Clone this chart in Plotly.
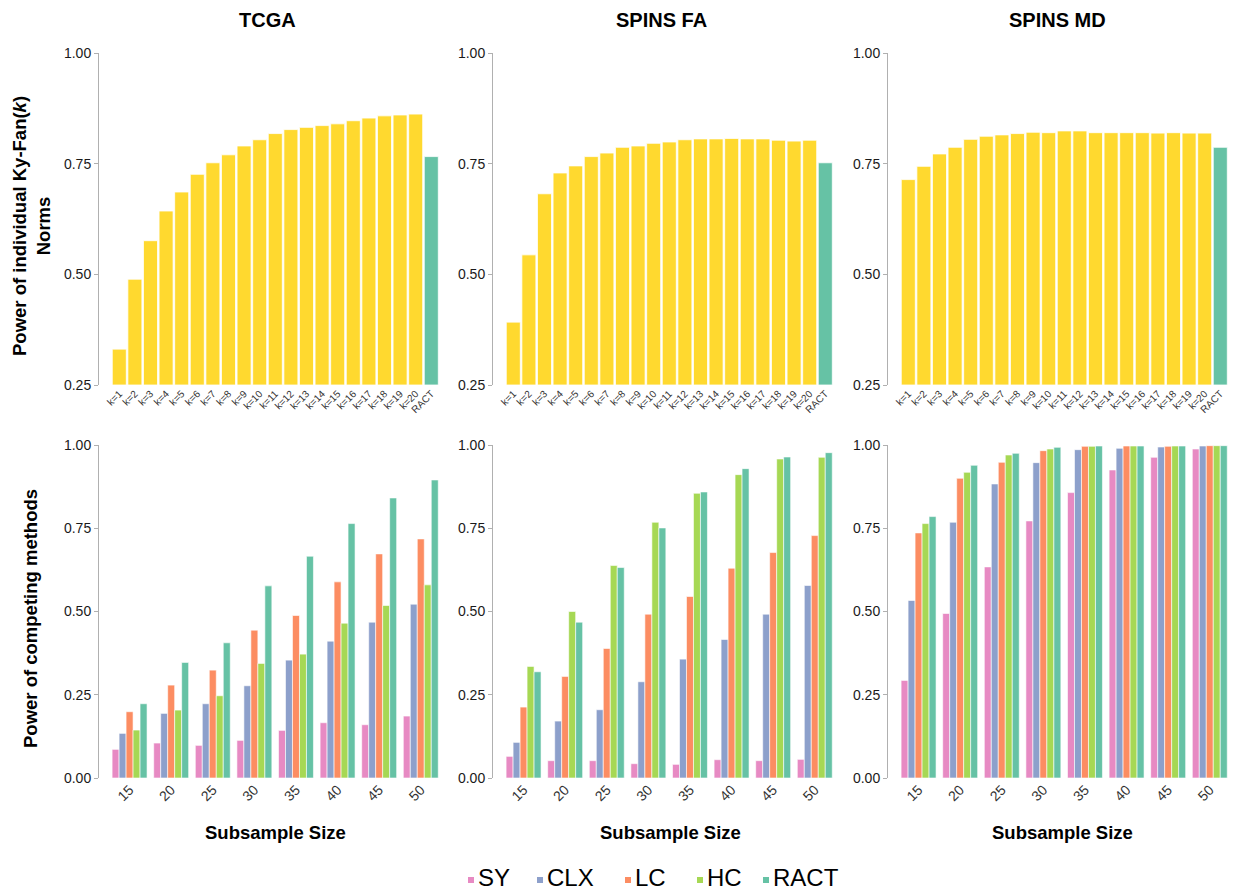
import plotly.graph_objects as go
from plotly.subplots import make_subplots

# ---------------- data ----------------
panel_titles = ["TCGA", "SPINS FA", "SPINS MD"]
k_labels = [f"k={i}" for i in range(1, 21)] + ["RACT"]

kyfan_tcga = [0.331, 0.489, 0.576, 0.643, 0.686, 0.726, 0.752, 0.770, 0.790, 0.804,
              0.818, 0.827, 0.832, 0.836, 0.840, 0.847, 0.853, 0.858, 0.860, 0.862, 0.766]
kyfan_spins_fa = [0.392, 0.544, 0.682, 0.729, 0.745, 0.766, 0.774, 0.787, 0.790, 0.796,
                  0.799, 0.804, 0.806, 0.806, 0.807, 0.806, 0.806, 0.803, 0.801, 0.803, 0.752]
kyfan_spins_md = [0.714, 0.744, 0.772, 0.787, 0.805, 0.812, 0.815, 0.818, 0.821, 0.820,
                  0.824, 0.824, 0.820, 0.820, 0.820, 0.820, 0.819, 0.820, 0.819, 0.819, 0.787]

sizes = ["15", "20", "25", "30", "35", "40", "45", "50"]
methods = ["SY", "CLX", "LC", "HC", "RACT"]

tcga_SY = [0.086, 0.105, 0.098, 0.113, 0.143, 0.166, 0.160, 0.186]
tcga_CLX = [0.134, 0.194, 0.223, 0.277, 0.354, 0.411, 0.468, 0.522]
tcga_LC = [0.199, 0.279, 0.324, 0.444, 0.488, 0.589, 0.673, 0.718]
tcga_HC = [0.144, 0.204, 0.247, 0.344, 0.372, 0.465, 0.518, 0.580]
tcga_RACT = [0.223, 0.347, 0.406, 0.577, 0.666, 0.764, 0.841, 0.895]

fa_SY = [0.065, 0.052, 0.052, 0.043, 0.041, 0.055, 0.052, 0.056]
fa_CLX = [0.107, 0.171, 0.205, 0.289, 0.357, 0.416, 0.492, 0.578]
fa_LC = [0.213, 0.305, 0.389, 0.492, 0.545, 0.630, 0.677, 0.728]
fa_HC = [0.335, 0.500, 0.638, 0.768, 0.855, 0.911, 0.958, 0.963]
fa_RACT = [0.319, 0.468, 0.632, 0.751, 0.859, 0.929, 0.964, 0.977]

md_SY = [0.293, 0.494, 0.634, 0.772, 0.857, 0.925, 0.963, 0.988]
md_CLX = [0.533, 0.768, 0.883, 0.947, 0.986, 0.990, 0.994, 0.997]
md_LC = [0.736, 0.900, 0.948, 0.983, 0.996, 0.997, 0.996, 0.998]
md_HC = [0.764, 0.918, 0.970, 0.988, 0.996, 0.997, 0.997, 0.998]
md_RACT = [0.785, 0.939, 0.975, 0.993, 0.997, 0.997, 0.997, 0.998]

kyfan_sets = [kyfan_tcga, kyfan_spins_fa, kyfan_spins_md]
power_sets = [
    [tcga_SY, tcga_CLX, tcga_LC, tcga_HC, tcga_RACT],
    [fa_SY, fa_CLX, fa_LC, fa_HC, fa_RACT],
    [md_SY, md_CLX, md_LC, md_HC, md_RACT],
]

# ---------------- style ----------------
OFF = 8  # page body margin
W, H = 1238 - OFF, 892 - OFF
FONT = "Liberation Sans, Arial, sans-serif"
method_colors = ["#E78AC3", "#8DA0CB", "#FC8D62", "#A6D854", "#66C2A5"]
yellow = "#FFD92F"
green = "#66C2A5"
axis_gray = "#B0B0B0"

panel_left = [99, 493, 888]
panel_w = 345
top_px = (53, 385)
bot_px = (445, 778)

def px_x(v):
    return (v - OFF) / W

def px_y(v):
    return 1 - (v - OFF) / H

fig = make_subplots(rows=2, cols=3)

for c in range(3):
    vals = kyfan_sets[c]
    colors = [yellow] * 20 + [green]
    fig.add_trace(go.Bar(x=k_labels, y=[v - 0.25 for v in vals], base=0.25,
                         marker=dict(color=colors, line=dict(color="white", width=0.8)),
                         width=0.9, showlegend=False, hoverinfo="skip"),
                  row=1, col=c + 1)
    for m, name in enumerate(methods):
        fig.add_trace(go.Bar(x=sizes, y=power_sets[c][m], name=name,
                             marker=dict(color=method_colors[m], line=dict(color="white", width=0.6)),
                             showlegend=False),
                      row=2, col=c + 1)

fig.update_layout(barmode="group", bargap=0.16, bargroupgap=0,
                  width=W, height=H, margin=dict(l=0, r=0, t=0, b=0, autoexpand=False),
                  showlegend=False,
                  plot_bgcolor="white", paper_bgcolor="white",
                  font=dict(family=FONT, color="#1a1a1a"))

yaxis_common = dict(showline=True, linecolor=axis_gray, linewidth=1,
                    ticks="outside", ticklen=4, tickcolor=axis_gray,
                    showgrid=False, zeroline=False, automargin=False,
                    tickfont=dict(size=14, color="#1a1a1a", family=FONT),
                    tickvals=[0, 0.25, 0.5, 0.75, 1.0], ticktext=["0.00", "0.25", "0.50", "0.75", "1.00"])

for c in range(3):
    L = panel_left[c]
    dom = [px_x(L), px_x(L + panel_w)]
    top_start = -1.3
    fig.update_layout(**{
        f"xaxis{c+1 if c else ''}": dict(domain=dom, type="category", automargin=False,
                                         range=[top_start, top_start + panel_w / 15.6],
                                         showline=False, showgrid=False, ticks="",
                                         tickangle=-45, tickfont=dict(size=10, color="#333333", family=FONT),
                                         anchor=f"y{c+1 if c else ''}"),
        f"yaxis{c+1 if c else ''}": dict(domain=[px_y(top_px[1]), px_y(top_px[0])],
                                         range=[0.25, 1.0], **yaxis_common),
    })
    bs = -0.735
    fig.update_layout(**{
        f"xaxis{c+4}": dict(domain=dom, type="category", automargin=False,
                            range=[bs, bs + panel_w / 41.6],
                            showline=False, showgrid=False, ticks="",
                            tickangle=-45, tickfont=dict(size=14, color="#333333", family=FONT),
                            anchor=f"y{c+4}"),
        f"yaxis{c+4}": dict(domain=[px_y(bot_px[1]), px_y(bot_px[0])],
                            range=[0, 1.0], **yaxis_common),
    })

annotations = []
title_cx = [267, 661, 1057]
xlab_cx = [275, 670, 1062]
for c in range(3):
    annotations.append(dict(text=f"<b>{panel_titles[c]}</b>", x=px_x(title_cx[c]), y=px_y(20),
                            xref="paper", yref="paper", showarrow=False,
                            xanchor="center", yanchor="middle",
                            font=dict(size=20, color="black", family=FONT)))
    annotations.append(dict(text="<b>Subsample Size</b>", x=px_x(xlab_cx[c]), y=px_y(832),
                            xref="paper", yref="paper", showarrow=False,
                            xanchor="center", yanchor="middle",
                            font=dict(size=18.5, color="black", family=FONT)))

annotations.append(dict(text="<b>Power of individual Ky-Fan(<i>k</i>)<br>Norms</b>",
                        x=px_x(31), y=px_y(226), xref="paper", yref="paper", showarrow=False,
                        textangle=-90, xanchor="center", yanchor="middle",
                        font=dict(size=18.5, color="black", family=FONT)))
annotations.append(dict(text="<b>Power of competing methods</b>",
                        x=px_x(30), y=px_y(619), xref="paper", yref="paper", showarrow=False,
                        textangle=-90, xanchor="center", yanchor="middle",
                        font=dict(size=18.5, color="black", family=FONT)))

shapes = []
legend_marker_x = [471, 540, 628, 700, 766]
legend_y = 880
for m, name in enumerate(methods):
    mx = legend_marker_x[m]
    shapes.append(dict(type="rect", xref="paper", yref="paper",
                       x0=px_x(mx - 3), x1=px_x(mx + 3),
                       y0=px_y(legend_y + 3), y1=px_y(legend_y - 3),
                       fillcolor=method_colors[m], line=dict(width=0)))
    annotations.append(dict(text=name, x=px_x(mx + 5), y=px_y(877),
                            xref="paper", yref="paper", showarrow=False,
                            xanchor="left", yanchor="middle",
                            font=dict(size=24, color="black", family=FONT)))

fig.update_layout(annotations=annotations, shapes=shapes)
fig.write_html("out.html")
